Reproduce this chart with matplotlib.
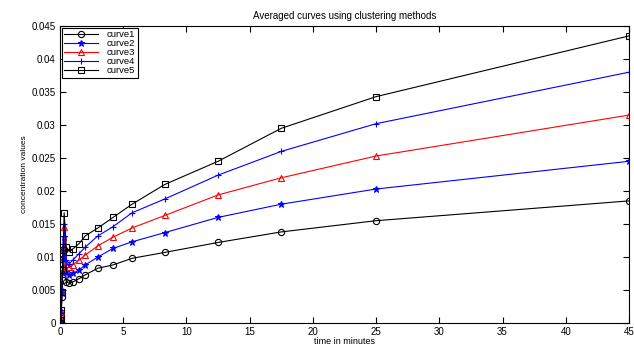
import matplotlib
matplotlib.use('Agg')
import matplotlib.pyplot as plt

plt.rcParams['font.family'] = ['Liberation Sans', 'DejaVu Sans']

# time points (minutes)
t = [0, 0.05, 0.1, 0.15, 0.2, 0.25, 0.33, 0.5, 0.75, 1.0, 1.5, 2.0, 3.0,
     4.2, 5.7, 8.3, 12.5, 17.5, 25, 45]

curve1 = [0, 0.0002, 0.001, 0.004, 0.0065, 0.009, 0.011, 0.0062, 0.006,
          0.0062, 0.0067, 0.0073, 0.0083, 0.0088, 0.0098, 0.0107, 0.0122,
          0.0138, 0.0155, 0.0185]
curve2 = [0, 0.0003, 0.0015, 0.0045, 0.0075, 0.010, 0.013, 0.0078, 0.0072,
          0.0075, 0.008, 0.0088, 0.01, 0.0113, 0.0123, 0.0137, 0.016,
          0.018, 0.0203, 0.0245]
curve3 = [0, 0.0004, 0.0018, 0.005, 0.008, 0.011, 0.0145, 0.009, 0.0085,
          0.0088, 0.0095, 0.0103, 0.0117, 0.013, 0.0144, 0.0163, 0.0194,
          0.022, 0.0253, 0.0315]
curve4 = [0, 0.0005, 0.002, 0.005, 0.0085, 0.012, 0.015, 0.0095, 0.009,
          0.0095, 0.0105, 0.0115, 0.0132, 0.0146, 0.0167, 0.0188, 0.0224,
          0.026, 0.0302, 0.038]
curve5 = [0, 0.0005, 0.002, 0.0047, 0.008, 0.011, 0.0167, 0.0115, 0.0108,
          0.0112, 0.012, 0.0132, 0.0144, 0.016, 0.018, 0.021, 0.0245,
          0.0295, 0.0343, 0.0435]

labels = ['curve1', 'curve2', 'curve3', 'curve4', 'curve5']
xticks = [0, 5, 10, 15, 20, 25, 30, 35, 40, 45]
yticks = [0, 0.005, 0.01, 0.015, 0.02, 0.025, 0.03, 0.035, 0.04, 0.045]
ytick_labels = ['0', '0.005', '0.01', '0.015', '0.02', '0.025', '0.03',
                '0.035', '0.04', '0.045']

fig = plt.figure(figsize=(6.34, 3.45), dpi=100)
ax = fig.add_axes([0.0946, 0.0638, 0.8975, 0.8608])

styles = [('k', 'o'), ('b', '*'), ('r', '^'), ('b', '+'), ('k', 's')]
for y, lab, (c, m) in zip([curve1, curve2, curve3, curve4, curve5], labels, styles):
    ax.plot(t, y, color=c, marker=m, markersize=4.5, linewidth=0.8,
            markerfacecolor='none' if m in 'o^s' else c,
            markeredgewidth=0.8, label=lab)

ax.set_xlim(0, 45)
ax.set_ylim(0, 0.045)
ax.set_xticks(xticks)
ax.set_yticks(yticks)
ax.set_yticklabels(ytick_labels)
ax.tick_params(direction='in', top=True, right=True, labelsize=7, length=4,
               width=0.8, pad=3)
for s in ax.spines.values():
    s.set_linewidth(0.8)

ax.set_title('Averaged curves using clustering methods', fontsize=7, pad=5)
ax.set_xlabel('time in minutes', fontsize=6.5, labelpad=0)
ax.set_ylabel('concentration values', fontsize=6, labelpad=3)

leg = ax.legend(loc='upper left', fontsize=6.8, fancybox=False, edgecolor='k',
                framealpha=1, borderpad=0.25, labelspacing=0.0,
                handlelength=3.6, handletextpad=0.9, borderaxespad=0.2)
leg.get_frame().set_linewidth(0.8)

fig.savefig('out.png', dpi=100)
